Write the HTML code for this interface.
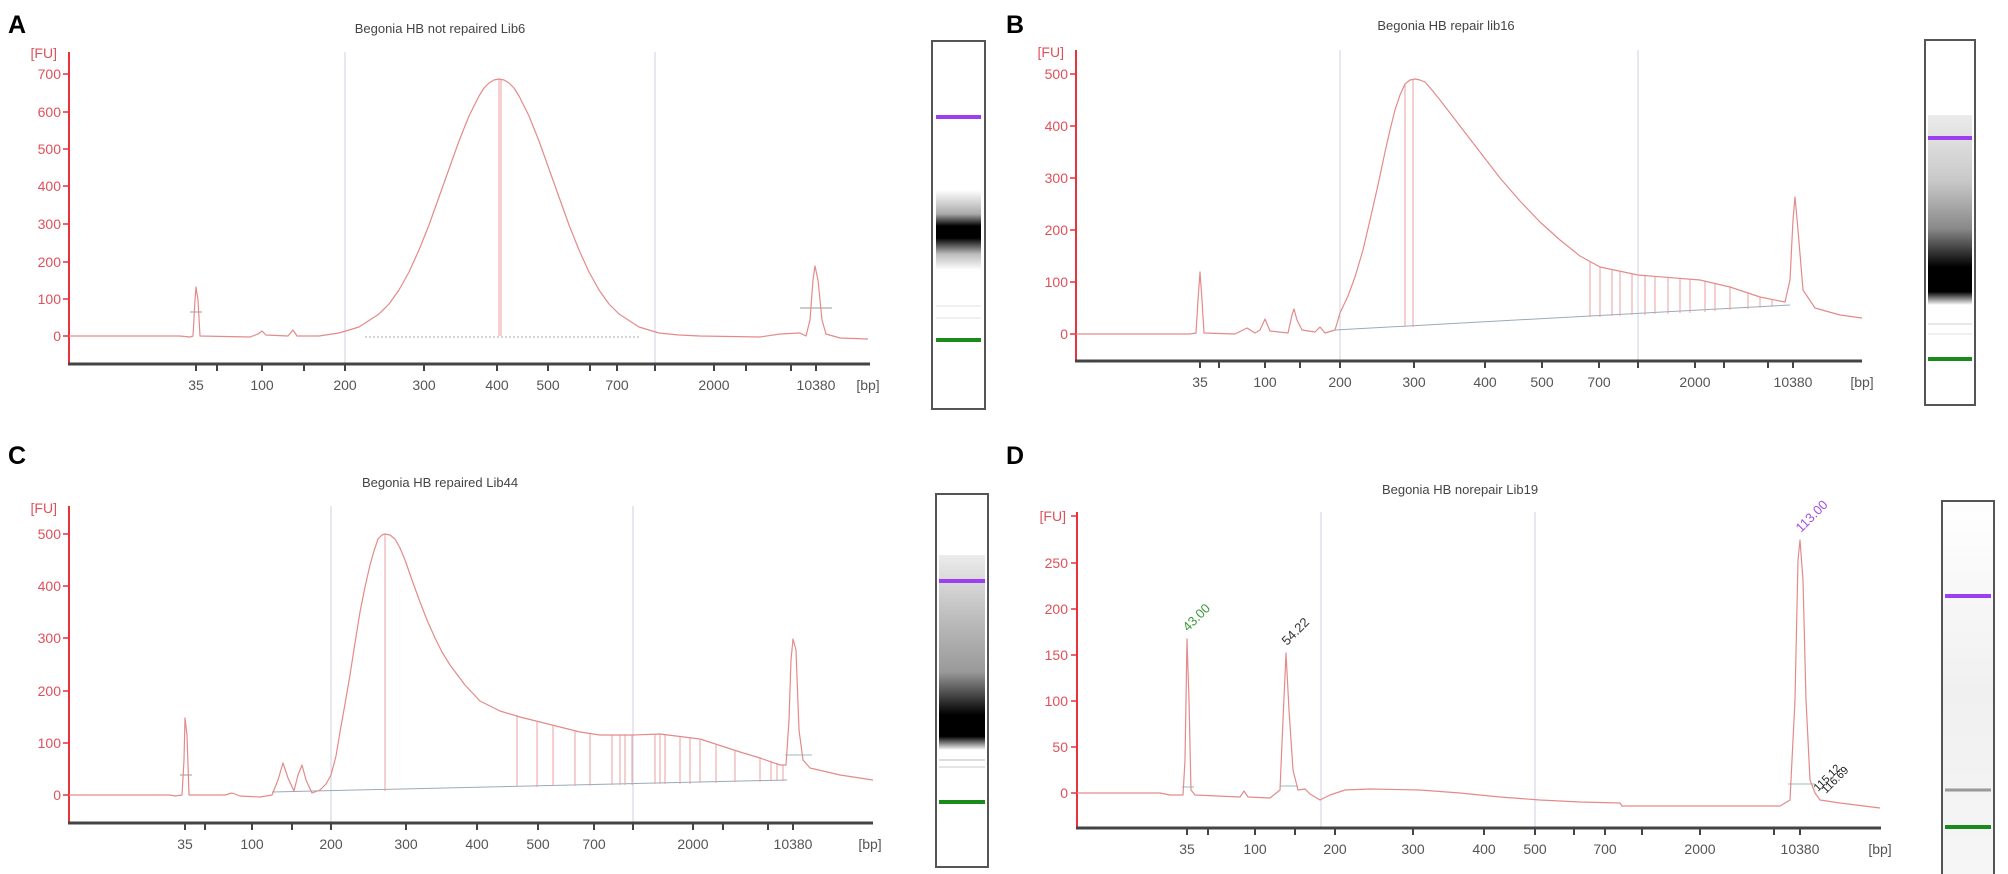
<!DOCTYPE html>
<html><head><meta charset="utf-8"><style>
html,body{margin:0;padding:0;background:#fff}
svg{display:block}
text{font-family:"Liberation Sans",sans-serif}
.yl{fill:#e0505a;font-size:14px;text-anchor:end}
.xl{fill:#555;font-size:14px;text-anchor:middle}
.tt{fill:#444;font-size:13px;text-anchor:middle}
.pl{font-size:25px;font-weight:bold;fill:#000}
.tr{fill:none;stroke:#e48a8a;stroke-width:1.2;stroke-linejoin:round}
.dl{stroke:#eba0a0;stroke-width:1}
.ya{stroke:#e8333c;stroke-width:2}
.xa{stroke:#444;stroke-width:3}
.gr{stroke:#cfcfe2;stroke-width:1}
.bl{stroke:#9ab;stroke-width:1}
</style></head><body>
<svg width="2008" height="874" viewBox="0 0 2008 874" xmlns="http://www.w3.org/2000/svg">
<defs>
<linearGradient id="gA" x1="0" y1="0" x2="0" y2="1">
<stop offset="0" stop-color="#fff"/><stop offset="0.3" stop-color="#aaa"/><stop offset="0.45" stop-color="#000"/><stop offset="0.6" stop-color="#000"/><stop offset="0.8" stop-color="#bbb"/><stop offset="1" stop-color="#fff"/></linearGradient>
<linearGradient id="gB" x1="0" y1="0" x2="0" y2="1">
<stop offset="0" stop-color="#ececec"/><stop offset="0.35" stop-color="#c8c8c8"/><stop offset="0.6" stop-color="#888"/><stop offset="0.8" stop-color="#000"/><stop offset="0.93" stop-color="#000"/><stop offset="1" stop-color="#fff"/></linearGradient>
<linearGradient id="gC" x1="0" y1="0" x2="0" y2="1">
<stop offset="0" stop-color="#ececec"/><stop offset="0.3" stop-color="#c0c0c0"/><stop offset="0.6" stop-color="#999"/><stop offset="0.82" stop-color="#000"/><stop offset="0.93" stop-color="#000"/><stop offset="1" stop-color="#fff"/></linearGradient>
<linearGradient id="gD" x1="0" y1="0" x2="0" y2="1">
<stop offset="0" stop-color="#fff"/><stop offset="0.5" stop-color="#f0f0f0"/><stop offset="1" stop-color="#f6f6f6"/></linearGradient>
</defs>

<!-- ================= A ================= -->
<text class="pl" x="8" y="33">A</text>
<text class="tt" x="440" y="33">Begonia HB not repaired Lib6</text>
<line class="gr" x1="345" y1="52" x2="345" y2="364"/>
<line class="gr" x1="655" y1="52" x2="655" y2="364"/>
<line class="ya" x1="69" y1="52" x2="69" y2="364"/>
<g stroke="#e8333c" stroke-width="1.5">
<line x1="63" y1="74" x2="69" y2="74"/><line x1="63" y1="112" x2="69" y2="112"/><line x1="63" y1="149" x2="69" y2="149"/><line x1="63" y1="186" x2="69" y2="186"/><line x1="63" y1="224" x2="69" y2="224"/><line x1="63" y1="262" x2="69" y2="262"/><line x1="63" y1="299" x2="69" y2="299"/><line x1="63" y1="336" x2="69" y2="336"/></g>
<text class="yl" x="57" y="58" font-size="13">[FU]</text>
<text class="yl" x="61" y="79">700</text><text class="yl" x="61" y="117">600</text><text class="yl" x="61" y="154">500</text><text class="yl" x="61" y="191">400</text><text class="yl" x="61" y="229">300</text><text class="yl" x="61" y="267">200</text><text class="yl" x="61" y="304">100</text><text class="yl" x="61" y="341">0</text>
<line class="xa" x1="68" y1="364" x2="870" y2="364"/>
<g stroke="#444" stroke-width="2">
<line x1="196" y1="364" x2="196" y2="371"/><line x1="217" y1="364" x2="217" y2="371"/><line x1="262" y1="364" x2="262" y2="371"/><line x1="304" y1="364" x2="304" y2="371"/><line x1="345" y1="364" x2="345" y2="371"/><line x1="424" y1="364" x2="424" y2="371"/><line x1="497" y1="364" x2="497" y2="371"/><line x1="548" y1="364" x2="548" y2="371"/><line x1="590" y1="364" x2="590" y2="371"/><line x1="617" y1="364" x2="617" y2="371"/><line x1="655" y1="364" x2="655" y2="371"/><line x1="714" y1="364" x2="714" y2="371"/><line x1="746" y1="364" x2="746" y2="371"/><line x1="791" y1="364" x2="791" y2="371"/><line x1="816" y1="364" x2="816" y2="371"/></g>
<text class="xl" x="196" y="390">35</text><text class="xl" x="262" y="390">100</text><text class="xl" x="345" y="390">200</text><text class="xl" x="424" y="390">300</text><text class="xl" x="497" y="390">400</text><text class="xl" x="548" y="390">500</text><text class="xl" x="617" y="390">700</text><text class="xl" x="714" y="390">2000</text><text class="xl" x="816" y="390">10380</text><text class="xl" x="868" y="390">[bp]</text>
<line x1="365" y1="337" x2="640" y2="337" stroke="#aab" stroke-dasharray="2,2"/>
<line class="dl" x1="499" y1="79" x2="499" y2="336"/><line class="dl" x1="501" y1="79" x2="501" y2="336"/>
<line x1="190" y1="312" x2="202" y2="312" stroke="#999"/>
<line x1="800" y1="308" x2="832" y2="308" stroke="#999"/>
<polyline class="tr" points="69,336 180,336 190,337 193,336 195,300 196,287 198,300 200,336 250,337 258,334 262,331 266,335 288,336 293,330 297,336 319,336 339,333 359,327 379,314 389,304 399,290 409,272 419,250 429,225 439,197 449,169 459,141 469,116 479,96 484,88 489,83 494,80 499,79 504,80 509,83 514,88 519,96 529,116 539,141 549,169 559,197 569,225 579,250 589,272 599,290 609,304 619,314 639,327 659,333 679,335 700,336 760,337 780,334 800,333 806,336 810,320 813,280 815,266 818,280 822,320 826,334 840,338 868,339"/>
<rect x="932" y="41" width="53" height="368" fill="#fff" stroke="#555" stroke-width="2"/>
<rect x="936" y="190" width="45" height="80" fill="url(#gA)"/>
<line x1="936" y1="306" x2="981" y2="306" stroke="#f0f0f0" stroke-width="2"/>
<line x1="936" y1="318" x2="981" y2="318" stroke="#f0f0f0" stroke-width="2"/>
<line x1="936" y1="117" x2="981" y2="117" stroke="#9b3ff0" stroke-width="4"/>
<line x1="936" y1="340" x2="981" y2="340" stroke="#1a8a1a" stroke-width="4"/>

<!-- ================= B ================= -->
<text class="pl" x="1006" y="33">B</text>
<text class="tt" x="1446" y="30">Begonia HB repair lib16</text>
<line class="gr" x1="1340" y1="50" x2="1340" y2="361"/>
<line class="gr" x1="1638" y1="50" x2="1638" y2="361"/>
<line class="ya" x1="1076" y1="50" x2="1076" y2="361"/>
<g stroke="#e8333c" stroke-width="1.5">
<line x1="1070" y1="74" x2="1076" y2="74"/><line x1="1070" y1="126" x2="1076" y2="126"/><line x1="1070" y1="178" x2="1076" y2="178"/><line x1="1070" y1="230" x2="1076" y2="230"/><line x1="1070" y1="282" x2="1076" y2="282"/><line x1="1070" y1="334" x2="1076" y2="334"/></g>
<text class="yl" x="1064" y="57" font-size="13">[FU]</text>
<text class="yl" x="1068" y="79">500</text><text class="yl" x="1068" y="131">400</text><text class="yl" x="1068" y="183">300</text><text class="yl" x="1068" y="235">200</text><text class="yl" x="1068" y="287">100</text><text class="yl" x="1068" y="339">0</text>
<line class="xa" x1="1075" y1="361" x2="1862" y2="361"/>
<g stroke="#444" stroke-width="2">
<line x1="1200" y1="361" x2="1200" y2="368"/><line x1="1219" y1="361" x2="1219" y2="368"/><line x1="1265" y1="361" x2="1265" y2="368"/><line x1="1300" y1="361" x2="1300" y2="368"/><line x1="1340" y1="361" x2="1340" y2="368"/><line x1="1414" y1="361" x2="1414" y2="368"/><line x1="1485" y1="361" x2="1485" y2="368"/><line x1="1542" y1="361" x2="1542" y2="368"/><line x1="1599" y1="361" x2="1599" y2="368"/><line x1="1638" y1="361" x2="1638" y2="368"/><line x1="1695" y1="361" x2="1695" y2="368"/><line x1="1724" y1="361" x2="1724" y2="368"/><line x1="1768" y1="361" x2="1768" y2="368"/><line x1="1793" y1="361" x2="1793" y2="368"/></g>
<text class="xl" x="1200" y="387">35</text><text class="xl" x="1265" y="387">100</text><text class="xl" x="1340" y="387">200</text><text class="xl" x="1414" y="387">300</text><text class="xl" x="1485" y="387">400</text><text class="xl" x="1542" y="387">500</text><text class="xl" x="1599" y="387">700</text><text class="xl" x="1695" y="387">2000</text><text class="xl" x="1793" y="387">10380</text><text class="xl" x="1862" y="387">[bp]</text>
<line class="bl" x1="1335" y1="330" x2="1790" y2="305"/>
<g class="dl">
<line x1="1405" y1="84" x2="1405" y2="327"/><line x1="1413" y1="79" x2="1413" y2="327"/>
<line x1="1590" y1="262" x2="1590" y2="317"/><line x1="1600" y1="267" x2="1600" y2="317"/><line x1="1612" y1="270" x2="1612" y2="316"/><line x1="1620" y1="272" x2="1620" y2="316"/><line x1="1632" y1="274" x2="1632" y2="315"/><line x1="1645" y1="275" x2="1645" y2="315"/><line x1="1655" y1="276" x2="1655" y2="314"/><line x1="1668" y1="277" x2="1668" y2="314"/><line x1="1680" y1="278" x2="1680" y2="313"/><line x1="1690" y1="279" x2="1690" y2="313"/><line x1="1705" y1="281" x2="1705" y2="312"/><line x1="1715" y1="283" x2="1715" y2="311"/><line x1="1730" y1="287" x2="1730" y2="310"/><line x1="1748" y1="293" x2="1748" y2="309"/><line x1="1760" y1="297" x2="1760" y2="308"/><line x1="1772" y1="300" x2="1772" y2="307"/></g>
<polyline class="tr" points="1076,334 1190,334 1196,333 1198,300 1200,272 1202,300 1204,333 1235,334 1247,328 1255,333 1260,330 1265,319 1270,331 1288,333 1292,315 1294,309 1297,320 1302,330 1315,332 1320,327 1325,333 1335,330 1340,313 1348,296 1355,277 1363,250 1370,220 1378,185 1385,152 1390,130 1395,110 1400,95 1405,84 1410,80 1415,79 1420,80 1425,82 1432,90 1440,100 1450,113 1460,126 1480,152 1500,178 1520,201 1540,222 1560,240 1580,256 1600,267 1638,275 1700,280 1730,287 1760,297 1785,302 1790,280 1793,220 1795,197 1798,230 1803,290 1815,308 1840,315 1862,318"/>
<rect x="1925" y="40" width="50" height="365" fill="#fff" stroke="#555" stroke-width="2"/>
<rect x="1928" y="115" width="44" height="190" fill="url(#gB)"/>
<line x1="1928" y1="324" x2="1972" y2="324" stroke="#e8e8e8" stroke-width="2"/>
<line x1="1928" y1="334" x2="1972" y2="334" stroke="#f0f0f0" stroke-width="2"/>
<line x1="1928" y1="138" x2="1972" y2="138" stroke="#9b3ff0" stroke-width="4"/>
<line x1="1928" y1="359" x2="1972" y2="359" stroke="#1a8a1a" stroke-width="4"/>

<!-- ================= C ================= -->
<text class="pl" x="8" y="464">C</text>
<text class="tt" x="440" y="487">Begonia HB repaired Lib44</text>
<line class="gr" x1="331" y1="506" x2="331" y2="823"/>
<line class="gr" x1="633" y1="506" x2="633" y2="823"/>
<line class="ya" x1="69" y1="506" x2="69" y2="823"/>
<g stroke="#e8333c" stroke-width="1.5">
<line x1="63" y1="534" x2="69" y2="534"/><line x1="63" y1="586" x2="69" y2="586"/><line x1="63" y1="638" x2="69" y2="638"/><line x1="63" y1="691" x2="69" y2="691"/><line x1="63" y1="743" x2="69" y2="743"/><line x1="63" y1="795" x2="69" y2="795"/></g>
<text class="yl" x="57" y="513" font-size="13">[FU]</text>
<text class="yl" x="61" y="539">500</text><text class="yl" x="61" y="591">400</text><text class="yl" x="61" y="643">300</text><text class="yl" x="61" y="696">200</text><text class="yl" x="61" y="748">100</text><text class="yl" x="61" y="800">0</text>
<line class="xa" x1="68" y1="823" x2="873" y2="823"/>
<g stroke="#444" stroke-width="2">
<line x1="185" y1="823" x2="185" y2="830"/><line x1="205" y1="823" x2="205" y2="830"/><line x1="252" y1="823" x2="252" y2="830"/><line x1="292" y1="823" x2="292" y2="830"/><line x1="331" y1="823" x2="331" y2="830"/><line x1="406" y1="823" x2="406" y2="830"/><line x1="477" y1="823" x2="477" y2="830"/><line x1="538" y1="823" x2="538" y2="830"/><line x1="594" y1="823" x2="594" y2="830"/><line x1="633" y1="823" x2="633" y2="830"/><line x1="693" y1="823" x2="693" y2="830"/><line x1="723" y1="823" x2="723" y2="830"/><line x1="768" y1="823" x2="768" y2="830"/><line x1="793" y1="823" x2="793" y2="830"/></g>
<text class="xl" x="185" y="849">35</text><text class="xl" x="252" y="849">100</text><text class="xl" x="331" y="849">200</text><text class="xl" x="406" y="849">300</text><text class="xl" x="477" y="849">400</text><text class="xl" x="538" y="849">500</text><text class="xl" x="594" y="849">700</text><text class="xl" x="693" y="849">2000</text><text class="xl" x="793" y="849">10380</text><text class="xl" x="870" y="849">[bp]</text>
<line class="bl" x1="272" y1="792" x2="787" y2="780"/>
<g class="dl">
<line x1="385" y1="534" x2="385" y2="791"/>
<line x1="517" y1="715" x2="517" y2="787"/><line x1="537" y1="722" x2="537" y2="787"/><line x1="553" y1="726" x2="553" y2="786"/><line x1="575" y1="731" x2="575" y2="786"/><line x1="590" y1="734" x2="590" y2="786"/><line x1="612" y1="735" x2="612" y2="785"/><line x1="620" y1="735" x2="620" y2="785"/><line x1="625" y1="735" x2="625" y2="785"/><line x1="632" y1="735" x2="632" y2="785"/><line x1="655" y1="734" x2="655" y2="784"/><line x1="660" y1="734" x2="660" y2="784"/><line x1="665" y1="734" x2="665" y2="784"/><line x1="680" y1="736" x2="680" y2="784"/><line x1="690" y1="738" x2="690" y2="784"/><line x1="700" y1="740" x2="700" y2="783"/><line x1="716" y1="745" x2="716" y2="783"/><line x1="735" y1="751" x2="735" y2="782"/><line x1="760" y1="758" x2="760" y2="782"/><line x1="771" y1="761" x2="771" y2="781"/><line x1="777" y1="763" x2="777" y2="781"/><line x1="783" y1="765" x2="783" y2="781"/></g>
<line x1="180" y1="775" x2="192" y2="775" stroke="#999"/>
<line x1="785" y1="755" x2="812" y2="755" stroke="#9bb"/>
<polyline class="tr" points="69,795 170,795 175,796 182,795 184,760 185,718 187,735 189,795 225,795 232,793 240,796 260,797 272,795 278,780 283,763 288,778 294,791 298,775 302,765 306,780 312,793 320,790 326,784 331,775 336,756 340,732 345,704 350,675 355,643 360,612 365,587 370,565 374,551 378,539 382,535 385,534 390,535 395,539 400,548 405,560 412,580 420,602 427,620 435,638 442,652 450,665 465,685 480,701 500,711 520,717 540,722 560,727 580,732 600,735 633,735 660,734 700,739 740,752 760,758 780,765 786,765 789,720 791,660 793,639 796,650 799,730 803,760 810,768 840,775 873,780"/>
<rect x="936" y="494" width="52" height="373" fill="#fff" stroke="#555" stroke-width="2"/>
<rect x="939" y="555" width="46" height="195" fill="url(#gC)"/>
<line x1="939" y1="760" x2="985" y2="760" stroke="#ddd" stroke-width="2"/>
<line x1="939" y1="767" x2="985" y2="767" stroke="#e4e4e4" stroke-width="2"/>
<line x1="939" y1="581" x2="985" y2="581" stroke="#9b3ff0" stroke-width="4"/>
<line x1="939" y1="802" x2="985" y2="802" stroke="#1a8a1a" stroke-width="4"/>

<!-- ================= D ================= -->
<text class="pl" x="1006" y="464">D</text>
<text class="tt" x="1460" y="494">Begonia HB norepair Lib19</text>
<line class="gr" x1="1321" y1="512" x2="1321" y2="828"/>
<line class="gr" x1="1535" y1="512" x2="1535" y2="828"/>
<line class="ya" x1="1077" y1="512" x2="1077" y2="828"/>
<g stroke="#e8333c" stroke-width="1.5">
<line x1="1071" y1="516" x2="1077" y2="516"/><line x1="1071" y1="563" x2="1077" y2="563"/><line x1="1071" y1="609" x2="1077" y2="609"/><line x1="1071" y1="655" x2="1077" y2="655"/><line x1="1071" y1="701" x2="1077" y2="701"/><line x1="1071" y1="747" x2="1077" y2="747"/><line x1="1071" y1="793" x2="1077" y2="793"/></g>
<text class="yl" x="1066" y="521" font-size="13">[FU]</text>
<text class="yl" x="1068" y="568">250</text><text class="yl" x="1068" y="614">200</text><text class="yl" x="1068" y="660">150</text><text class="yl" x="1068" y="706">100</text><text class="yl" x="1068" y="752">50</text><text class="yl" x="1068" y="798">0</text>
<line class="xa" x1="1076" y1="828" x2="1881" y2="828"/>
<g stroke="#444" stroke-width="2">
<line x1="1187" y1="828" x2="1187" y2="835"/><line x1="1208" y1="828" x2="1208" y2="835"/><line x1="1255" y1="828" x2="1255" y2="835"/><line x1="1295" y1="828" x2="1295" y2="835"/><line x1="1335" y1="828" x2="1335" y2="835"/><line x1="1413" y1="828" x2="1413" y2="835"/><line x1="1484" y1="828" x2="1484" y2="835"/><line x1="1535" y1="828" x2="1535" y2="835"/><line x1="1574" y1="828" x2="1574" y2="835"/><line x1="1605" y1="828" x2="1605" y2="835"/><line x1="1642" y1="828" x2="1642" y2="835"/><line x1="1700" y1="828" x2="1700" y2="835"/><line x1="1774" y1="828" x2="1774" y2="835"/><line x1="1800" y1="828" x2="1800" y2="835"/></g>
<text class="xl" x="1187" y="854">35</text><text class="xl" x="1255" y="854">100</text><text class="xl" x="1335" y="854">200</text><text class="xl" x="1413" y="854">300</text><text class="xl" x="1484" y="854">400</text><text class="xl" x="1535" y="854">500</text><text class="xl" x="1605" y="854">700</text><text class="xl" x="1700" y="854">2000</text><text class="xl" x="1800" y="854">10380</text><text class="xl" x="1880" y="854">[bp]</text>
<line x1="1182" y1="787" x2="1194" y2="787" stroke="#9bb"/>
<line x1="1280" y1="786" x2="1298" y2="786" stroke="#9bb"/>
<line x1="1788" y1="784" x2="1815" y2="784" stroke="#9bb"/>
<polyline class="tr" points="1077,793 1160,793 1170,795 1183,795 1185,760 1187,639 1189,700 1191,790 1195,795 1240,797 1244,791 1248,797 1270,798 1280,790 1283,720 1286,653 1289,710 1293,770 1298,790 1305,789 1310,794 1320,800 1330,795 1345,790 1370,789 1420,790 1460,793 1500,797 1540,800 1580,802 1620,803 1622,806 1700,806 1780,806 1790,800 1795,700 1798,560 1800,540 1803,580 1806,700 1810,780 1815,793 1820,800 1840,803 1880,808"/>
<text x="1188" y="632" font-size="13" fill="#3a9a3a" transform="rotate(-45 1188 632)">43.00</text>
<text x="1287" y="646" font-size="13" fill="#333" transform="rotate(-45 1287 646)">54.22</text>
<text x="1801" y="533" font-size="13" fill="#a050e0" transform="rotate(-45 1801 533)">113.00</text>
<text x="1818" y="792" font-size="11" fill="#222" transform="rotate(-45 1818 792)">115.12</text>
<text x="1826" y="794" font-size="11" fill="#222" transform="rotate(-45 1826 794)">116.69</text>
<rect x="1942" y="501" width="52" height="380" fill="url(#gD)" stroke="#555" stroke-width="2"/>
<line x1="1945" y1="790" x2="1991" y2="790" stroke="#999" stroke-width="3"/>
<line x1="1945" y1="596" x2="1991" y2="596" stroke="#9b3ff0" stroke-width="4"/>
<line x1="1945" y1="827" x2="1991" y2="827" stroke="#1a8a1a" stroke-width="4"/>
</svg>
</body></html>
